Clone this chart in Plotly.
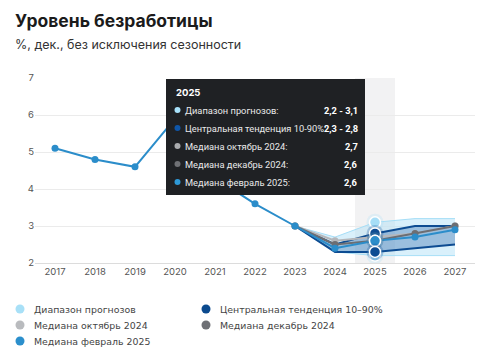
import plotly.graph_objects as go

# ---------------- data ----------------
hist_years = [2017, 2018, 2019, 2020, 2021, 2022, 2023]
hist_values = [5.1, 4.8, 4.6, 5.9, 4.3, 3.6, 3.0]

fc_years = [2023, 2024, 2025, 2026, 2027]
range_low = [3.0, 2.3, 2.2, 2.2, 2.2]
range_high = [3.0, 2.7, 3.1, 3.2, 3.2]
ct_low = [3.0, 2.3, 2.3, 2.4, 2.5]
ct_high = [3.0, 2.5, 2.8, 3.0, 3.0]
median_oct24 = [3.0, 2.6, 2.7, 2.8, 3.0]
median_dec24 = [3.0, 2.5, 2.6, 2.8, 3.0]
median_feb25 = [3.0, 2.4, 2.6, 2.7, 2.9]

x_ticks = list(range(2017, 2028))
y_ticks = [2, 3, 4, 5, 6, 7]

hover_year = 2025
series_names = ["Диапазон прогнозов", "Центральная тенденция 10-90%",
                "Медиана октябрь 2024", "Медиана декабрь 2024", "Медиана февраль 2025"]
legend_names = ["Диапазон прогнозов", "Центральная тенденция 10–90%",
                "Медиана октябрь 2024", "Медиана декабрь 2024", "Медиана февраль 2025"]
tooltip_values = ["2,2 - 3,1", "2,3 - 2,8", "2,7", "2,6", "2,6"]

title = "Уровень безработицы"
subtitle = "%, дек., без исключения сезонности"

# ---------------- style ----------------
C_RANGE = "#a6def7"
C_RANGE_FILL = "rgba(170,222,247,0.45)"
C_CT = "#0d4c92"
C_CT_FILL = "rgba(40,100,170,0.35)"
C_OCT = "#b5b7bb"
C_DEC = "#6c6e73"
C_FEB = "#2b8dca"

W, H = 493, 362
L, R, T, B = 35, 475, 78, 263  # plot area in pixels


def px(xp):
    return (xp - L) / (R - L)


def py(yp):
    return (B - yp) / (B - T)


fig = go.Figure()

# range band
fig.add_trace(go.Scatter(x=fc_years, y=range_low, mode="lines",
                         line=dict(color=C_RANGE, width=1), showlegend=False, hoverinfo="skip"))
fig.add_trace(go.Scatter(x=fc_years, y=range_high, mode="lines", fill="tonexty",
                         fillcolor=C_RANGE_FILL, line=dict(color=C_RANGE, width=1),
                         showlegend=False, hoverinfo="skip"))
# central tendency band
fig.add_trace(go.Scatter(x=fc_years, y=ct_low, mode="lines",
                         line=dict(color=C_CT, width=2), showlegend=False, hoverinfo="skip"))
fig.add_trace(go.Scatter(x=fc_years, y=ct_high, mode="lines", fill="tonexty",
                         fillcolor=C_CT_FILL, line=dict(color=C_CT, width=2),
                         showlegend=False, hoverinfo="skip"))
# medians
fig.add_trace(go.Scatter(x=fc_years, y=median_oct24, mode="lines+markers",
                         line=dict(color=C_OCT, width=2), marker=dict(size=7, color=C_OCT),
                         showlegend=False))
fig.add_trace(go.Scatter(x=fc_years, y=median_dec24, mode="lines+markers",
                         line=dict(color=C_DEC, width=2), marker=dict(size=7, color=C_DEC),
                         showlegend=False))
fig.add_trace(go.Scatter(x=hist_years + fc_years[1:], y=hist_values + median_feb25[1:],
                         mode="lines+markers", line=dict(color=C_FEB, width=2),
                         marker=dict(size=7, color=C_FEB), showlegend=False))

# hover-state markers at the highlighted year
i = fc_years.index(hover_year)
hv = [(range_low[i], C_RANGE), (range_high[i], C_RANGE), (median_oct24[i], C_OCT),
      (ct_high[i], C_CT), (median_dec24[i], C_DEC), (median_feb25[i], C_FEB), (ct_low[i], C_CT)]
for val, col in hv:
    fig.add_trace(go.Scatter(x=[hover_year], y=[val], mode="markers",
                             marker=dict(size=17, color=col, opacity=0.25),
                             showlegend=False, hoverinfo="skip"))
    fig.add_trace(go.Scatter(x=[hover_year], y=[val], mode="markers",
                             marker=dict(size=11, color=col, line=dict(color="white", width=1.5)),
                             showlegend=False, hoverinfo="skip"))

shapes = []
annotations = []

# hover column
shapes.append(dict(type="rect", xref="x", yref="paper", x0=hover_year - 0.5, x1=hover_year + 0.5,
                   y0=0, y1=1, fillcolor="#f2f2f3", line=dict(width=0), layer="below"))

# tooltip box
shapes.append(dict(type="rect", xref="paper", yref="paper", x0=px(166), x1=px(365),
                   y0=py(195), y1=py(79), fillcolor="#1f2124", line=dict(width=0), layer="above"))
annotations.append(dict(xref="paper", yref="paper", x=px(174), y=py(93), xanchor="left",
                        yanchor="middle", showarrow=False, text="<b>2025</b>",
                        font=dict(family="Inter", size=9.5, color="white")))
tip_colors = ["#a8e2fa", "#0f56a8", "#a9abae", "#6f7175", "#2e9ad8"]
row_y = [110, 128, 146, 164, 182]
for name, val, col, yy in zip(series_names, tooltip_values, tip_colors, row_y):
    shapes.append(dict(type="circle", xref="paper", yref="paper", xsizemode="pixel",
                       ysizemode="pixel", xanchor=px(177.5), yanchor=py(yy),
                       x0=-3, x1=3, y0=-3, y1=3, fillcolor=col, line=dict(width=0),
                       layer="above"))
    annotations.append(dict(xref="paper", yref="paper", x=px(183), y=py(yy), xanchor="left",
                            yanchor="middle", showarrow=False, text=name + ":",
                            font=dict(family="Roboto", size=9.3, color="#e9e9ea")))
    annotations.append(dict(xref="paper", yref="paper", x=px(360), y=py(yy), xanchor="right",
                            yanchor="middle", showarrow=False, text="<b>" + val + "</b>",
                            font=dict(family="Roboto", size=9.3, color="white")))

# title / subtitle
annotations.append(dict(xref="paper", yref="paper", x=px(13), y=py(20), xanchor="left",
                        yanchor="middle", showarrow=False, text="<b>" + title + "</b>",
                        font=dict(family="Inter", size=17.5, color="#1b1b1b")))
annotations.append(dict(xref="paper", yref="paper", x=px(13), y=py(44), xanchor="left",
                        yanchor="middle", showarrow=False, text=subtitle,
                        font=dict(family="Inter", size=12.5, color="#333333")))

# legend (manual)
leg_colors = ["#a8e0f7", "#0b4a8e", "#b9bbbe", "#6e7075", "#2b8fcc"]
leg_pos = [(20, 309), (206, 309), (20, 325), (206, 325), (20, 341)]
for name, col, (lx, ly) in zip(legend_names, leg_colors, leg_pos):
    shapes.append(dict(type="circle", xref="paper", yref="paper", xsizemode="pixel",
                       ysizemode="pixel", xanchor=px(lx), yanchor=py(ly),
                       x0=-4.5, x1=4.5, y0=-4.5, y1=4.5, fillcolor=col, line=dict(width=0)))
    annotations.append(dict(xref="paper", yref="paper", x=px(lx + 12), y=py(ly), xanchor="left",
                            yanchor="middle", showarrow=False, text=name,
                            font=dict(family="DejaVu Sans", size=9.4, color="#444444")))

fig.update_layout(
    width=W, height=H,
    margin=dict(l=L, r=W - R, t=T, b=H - B),
    paper_bgcolor="white", plot_bgcolor="white",
    showlegend=False,
    shapes=shapes, annotations=annotations,
    xaxis=dict(range=[2016.5, 2027.5], tickvals=x_ticks, showgrid=False, zeroline=False,
               showline=True, linecolor="#dcdcdc", linewidth=1, ticks="",
               tickfont=dict(family="Inter", size=9.5, color="#555555"), fixedrange=True),
    yaxis=dict(range=[2, 7], tickvals=y_ticks, showgrid=True, gridcolor="#ebebeb",
               zeroline=False, showline=False, ticks="",
               tickfont=dict(family="Inter", size=9.5, color="#555555"), fixedrange=True),
)

fig.write_html("out.html", config={"displayModeBar": False},
               post_script="document.body.style.margin='0';")
